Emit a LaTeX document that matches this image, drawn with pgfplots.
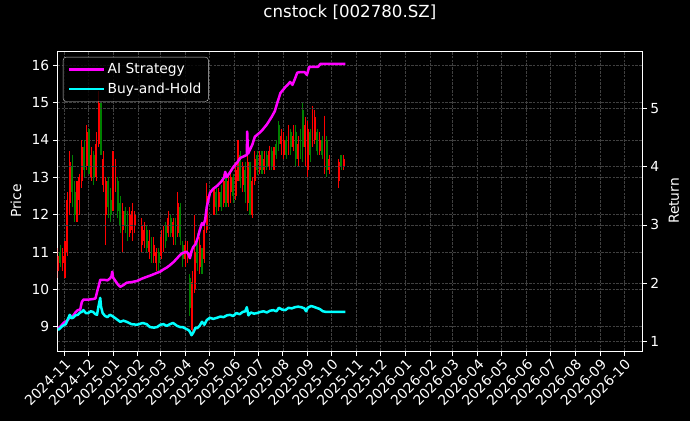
\documentclass[border=0pt]{standalone}
\usepackage{fontspec}
\setmainfont{DejaVu Sans}
\usepackage{pgfplots}
\pgfplotsset{compat=1.18}
\usepackage{pgfplotstable}
\definecolor{cup}{RGB}{255,0,0}
\definecolor{cdown}{RGB}{0,128,0}
\definecolor{gridc}{RGB}{64,64,64}
\definecolor{mag}{RGB}{255,0,255}
\definecolor{cya}{RGB}{0,255,255}

\pgfplotstableread{
d o h l c
-8 10.5 11.1 10.3 10.9
-5 11.0 11.2 10.6 10.7
-2 10.7 11.1 10.5 10.9
1 10.5 11.3 10.3 11.0
4 11.0 12.6 10.9 12.4
7 12.3 13.7 12.0 13.4
10 13.3 13.6 12.2 12.6
13 12.6 12.9 11.8 12.0
16 12.0 12.9 11.8 12.6
19 12.4 13.1 12.0 13.0
22 12.9 14.0 12.7 13.8
25 13.8 14.0 13.0 13.2
28 13.3 14.4 13.2 14.2
31 14.2 14.3 13.1 13.4
34 13.0 13.8 12.9 13.6
37 13.6 13.7 12.8 13.0
40 13.0 14.2 12.9 13.9
43 13.9 15.3 13.8 15.0
46 14.9 15.0 13.6 13.8
49 12.8 13.7 12.6 13.5
52 12.0 13.0 11.2 12.9
55 12.9 13.0 11.9 12.2
58 12.4 12.7 11.8 12.0
61 12.2 13.7 12.1 13.3
64 12.8 13.5 12.6 13.3
67 12.9 13.0 11.9 12.1
70 12.3 12.5 11.5 11.7
73 11.6 12.3 11.0 12.1
76 12.1 12.2 11.5 11.7
79 11.9 12.1 11.3 11.5
82 11.5 12.2 11.4 12.0
85 11.6 12.3 11.3 12.1
88 11.7 12.1 11.5 12.0
97 11.2 11.9 11.0 11.7
100 11.3 11.8 11.1 11.6
103 11.6 11.7 11.0 11.1
106 11.0 11.6 10.8 11.3
109 11.3 11.4 10.7 10.9
112 10.9 11.4 10.7 11.2
115 10.7 11.1 10.5 11.0
118 11.0 11.1 10.5 10.7
121 10.9 11.6 10.8 11.4
124 11.1 11.7 11.0 11.5
127 11.7 11.8 11.1 11.3
130 11.5 12.1 11.4 11.9
133 11.9 12.0 11.4 11.5
136 11.4 11.9 11.2 11.8
139 11.8 11.9 11.2 11.3
142 11.5 12.6 11.4 12.3
145 12.2 12.3 11.2 11.4
148 11.2 11.3 10.6 10.8
151 10.8 11.3 10.6 11.2
154 10.9 11.3 10.7 11.1
157 10.3 10.4 9.3 9.5
160 8.9 10.5 8.75 10.2
163 10.0 12.0 9.9 11.0
166 11.2 11.5 10.5 10.7
169 10.6 11.4 10.4 11.2
172 11.0 11.1 10.4 10.6
175 10.8 11.8 10.7 11.6
178 11.6 12.85 11.5 12.5
187 12.1 12.7 12.0 12.5
190 12.6 12.7 12.0 12.2
193 12.2 12.7 12.1 12.6
196 12.6 12.8 12.1 12.2
199 12.3 13.1 12.2 12.9
202 12.8 13.0 12.2 12.4
205 12.3 13.1 12.2 12.9
208 12.6 13.2 12.3 13.0
211 13.0 13.1 12.3 12.5
214 12.5 13.4 12.4 13.2
217 13.0 14.0 12.9 13.7
220 13.6 13.7 12.7 12.9
223 12.8 13.4 12.6 13.3
226 13.2 13.4 12.3 12.6
229 12.3 13.6 12.1 13.4
232 13.3 13.4 12.0 12.3
235 12.0 13.0 11.9 12.9
238 12.9 13.7 12.8 13.5
241 13.6 13.7 13.05 13.2
244 13.2 13.7 13.1 13.6
247 13.6 13.7 13.1 13.2
250 13.2 13.7 13.1 13.5
253 13.6 13.7 13.2 13.3
256 13.3 13.85 13.2 13.7
259 13.7 13.8 13.2 13.3
262 13.3 13.8 13.2 13.6
265 13.9 14.0 13.5 13.6
268 14.4 14.5 13.7 13.9
271 13.9 14.3 13.6 14.1
274 13.6 14.2 13.5 14.0
277 14.0 14.1 13.5 13.6
280 13.7 14.4 13.6 14.2
283 14.2 14.3 13.6 13.8
286 13.8 14.4 13.7 14.1
289 14.2 14.4 13.3 13.5
292 13.5 14.1 13.3 13.9
295 14.1 14.3 13.5 13.7
298 14.8 15.0 13.4 13.8
301 13.8 14.6 13.3 14.4
304 13.2 14.5 13.0 14.3
307 14.2 14.3 13.4 13.6
310 13.9 14.9 13.8 14.7
313 14.0 14.8 13.9 14.6
316 14.2 14.3 13.6 13.7
319 13.7 14.2 13.6 14.0
322 14.0 14.1 13.5 13.6
325 13.3 14.65 13.1 14.4
328 14.0 14.1 13.0 13.2
331 13.2 13.6 13.1 13.5
343 12.9 13.5 12.7 13.4
346 13.6 13.6 13.2 13.3
349 13.3 13.6 13.2 13.5
}\candles

\pgfplotsset{
  mybase/.style={
    at={(57.7bp,70bp)}, anchor=south west,
    scale only axis, width=584.3bp, height=300bp,
    xmin=-8.1, xmax=721.4,
    tick align=outside, major tick length=4.9bp,
    tick style={white, line width=0.8bp},
    /pgf/number format/assume math mode=true,
    ticklabel style={font=\fontsize{13.9}{15}\selectfont, text=white},
    label style={font=\fontsize{13.9}{15}\selectfont, text=white},
    grid style={gridc, line width=0.5bp, dash pattern=on 2.6bp off 1.2bp},
  }
}

\begin{document}
\begin{tikzpicture}
\fill[black] (0,0) rectangle (690bp,421bp);
\begin{axis}[mybase,
  ymin=8.35, ymax=16.38,
  axis line style={white, line width=0.8bp},
  xtick={0,30,61,92,120,151,181,212,242,273,304,334,365,395,426,457,485,516,546,577,607,638,669,699},
  xticklabels={2024-11,2024-12,2025-01,2025-02,2025-03,2025-04,2025-05,2025-06,2025-07,2025-08,2025-09,2025-10,2025-11,2025-12,2026-01,2026-02,2026-03,2026-04,2026-05,2026-06,2026-07,2026-08,2026-09,2026-10},
  xticklabel style={rotate=45, anchor=north east, inner sep=1.5bp},
  ytick={9,10,...,16},
  xtick pos=left, ytick pos=left,
  xmajorgrids, ymajorgrids,
  ylabel={Price},
  ylabel style={at={(axis description cs:-0.0714,0.5)}, anchor=center, rotate=0},
  title={cnstock [002780.SZ]},
  title style={at={(axis description cs:0.5,1.11)}, anchor=center, font=\fontsize{16.7}{18}\selectfont, text=white},
]
% wicks up
\addplot[forget plot, draw=none, mark=none, restrict expr to domain={\thisrow{c}-\thisrow{o}}{0:100},
  error bars/.cd, y dir=minus, y explicit, error mark=none, error bar style={line width=1.1bp, cup}]
  table[x=d, y=h, y error minus expr=\thisrow{h}-\thisrow{l}] {\candles};
% wicks down
\addplot[forget plot, draw=none, mark=none, restrict expr to domain={\thisrow{c}-\thisrow{o}}{-100:-0.0001},
  error bars/.cd, y dir=minus, y explicit, error mark=none, error bar style={line width=1.1bp, cdown}]
  table[x=d, y=h, y error minus expr=\thisrow{h}-\thisrow{l}] {\candles};
% bodies up
\addplot[forget plot, draw=none, mark=none, restrict expr to domain={\thisrow{c}-\thisrow{o}}{0:100},
  error bars/.cd, y dir=minus, y explicit, error mark=none, error bar style={line width=1.9bp, cup}]
  table[x=d, y=c, y error minus expr=\thisrow{c}-\thisrow{o}] {\candles};
% bodies down
\addplot[forget plot, draw=none, mark=none, restrict expr to domain={\thisrow{c}-\thisrow{o}}{-100:-0.0001},
  error bars/.cd, y dir=minus, y explicit, error mark=none, error bar style={line width=1.9bp, cdown}]
  table[x=d, y=o, y error minus expr=\thisrow{o}-\thisrow{c}] {\candles};
\end{axis}

\begin{axis}[mybase,
  ymin=0.84, ymax=5.98,
  axis x line=none,
  axis y line*=right,
  axis line style={white, line width=0.8bp},
  ytick={1,2,3,4,5},
  ymajorgrids,
  ylabel={Return},
  ylabel style={at={(axis description cs:1.0548,0.5)}, anchor=center, rotate=0},
  legend style={at={(axis description cs:0.009,0.98)}, anchor=north west,
    fill=black, fill opacity=0.8, text opacity=1, draw=white!80!black, draw opacity=1,
    rounded corners=3bp, text=white, font=\fontsize{13.9}{15}\selectfont,
    inner xsep=5bp, inner ysep=4.5bp, row sep=3.5bp},
  legend cell align=left,
  legend image code/.code={\draw[#1] (0bp,0bp) -- (28bp,0bp); \path (0bp,0bp) -- (35bp,0bp);},
]
\addplot[mag, line width=2.5bp, line join=round] coordinates {
(-7.7,1.22) (-4,1.27) (0,1.33) (4,1.36) (7,1.42) (11,1.44) (14,1.50) (17,1.54) (20,1.55)
(22,1.68) (24,1.72) (30,1.72) (36,1.73) (39,1.74) (41,1.85) (43,1.95) (45,2.06) (50,2.06)
(54,2.05) (57,2.08) (59,2.12) (60,2.20) (61,2.10) (64,2.04) (67,1.98) (70,1.94) (74,1.97)
(78,2.01) (84,2.02) (91,2.04) (97,2.08) (103,2.11) (109,2.14) (116,2.18) (120,2.20) (123,2.23)
(128,2.27) (132,2.31) (137,2.37) (141,2.43) (145,2.49) (148,2.52) (153,2.54) (155,2.50)
(157,2.43) (159,2.55) (161,2.62) (164,2.67) (167,2.79) (169,2.90) (172,3.03) (174,3.00)
(176,3.09) (178,3.31) (180,3.43) (182,3.55) (186,3.62) (191,3.67) (196,3.74) (200,3.82)
(201,3.91) (203,3.82) (207,3.90) (211,3.99) (216,4.07) (220,4.15) (225,4.18) (228,4.20)
(228.5,4.60) (229.5,4.22) (232,4.29) (235,4.38) (238,4.51) (244,4.58) (247,4.62) (253,4.72)
(259,4.85) (263,4.95) (266,5.09) (270,5.26) (276,5.36) (279,5.40) (282,5.45) (285,5.40)
(288,5.50) (291,5.61) (296,5.62) (300,5.62) (303,5.57) (306,5.71) (310,5.71) (317,5.71)
(320,5.76) (351,5.76)
};
\addlegendentry{AI Strategy}
\addplot[cya, line width=2.5bp, line join=round] coordinates {
(-7.7,1.20) (-5,1.23) (-2,1.27) (2,1.30) (5,1.40) (7,1.46) (9,1.40) (11,1.41) (14,1.45)
(17,1.46) (20,1.50) (22,1.51) (24,1.54) (27,1.49) (30,1.49) (33,1.52) (36,1.51) (39,1.47)
(41,1.46) (43,1.62) (45,1.75) (46,1.60) (48,1.49) (51,1.44) (54,1.42) (57,1.46) (60,1.44)
(63,1.41) (66,1.38) (70,1.34) (74,1.36) (78,1.34) (84,1.30) (91,1.29) (98,1.32) (103,1.30)
(107,1.25) (112,1.24) (116,1.25) (120,1.29) (124,1.30) (128,1.27) (132,1.30) (136,1.32)
(141,1.27) (145,1.25) (148,1.25) (152,1.22) (155,1.20) (157,1.17) (159,1.11) (161,1.15)
(164,1.24) (166,1.23) (169,1.27) (172,1.34) (175,1.29) (178,1.37) (182,1.41) (186,1.39)
(191,1.41) (195,1.43) (199,1.42) (203,1.45) (207,1.46) (211,1.44) (215,1.49) (219,1.47)
(223,1.51) (226,1.52) (228,1.59) (230,1.45) (233,1.50) (237,1.48) (241,1.49) (245,1.51)
(249,1.52) (253,1.50) (257,1.53) (261,1.54) (265,1.52) (268,1.58) (272,1.55) (276,1.54)
(280,1.58) (284,1.57) (288,1.59) (292,1.60) (296,1.59) (300,1.57) (302,1.52) (304,1.58)
(308,1.61) (311,1.60) (315,1.58) (319,1.56) (323,1.52) (327,1.51) (332,1.51) (343,1.51)
(347,1.51) (351,1.51)
};
\addlegendentry{Buy-and-Hold}
\end{axis}
\pgfresetboundingbox
\path[use as bounding box] (0,0) rectangle (690bp,421bp);
\end{tikzpicture}
\end{document}
